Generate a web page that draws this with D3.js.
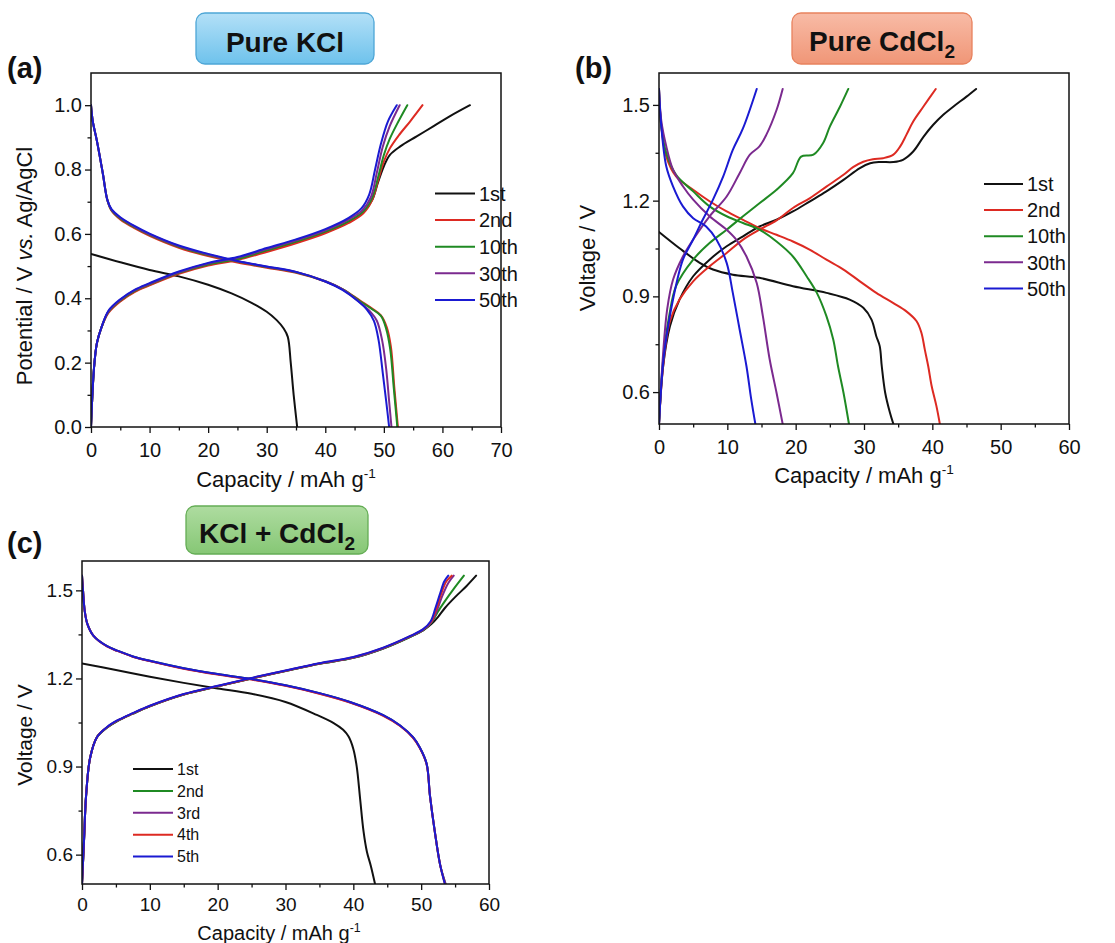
<!DOCTYPE html>
<html>
<head>
<meta charset="utf-8">
<script src="https://cdn.jsdelivr.net/npm/d3@7/dist/d3.min.js"></script>
<style>
  html, body { margin: 0; padding: 0; background: #fff; }
  svg { display: block; font-family: Arial, "Liberation Sans", sans-serif; }
</style>
</head>
<body>
<svg id="fig" width="1115" height="943"></svg>
<script>
// ---------- Panel (a): Pure KCl, potential vs Ag/AgCl ----------
const cyclesA = ["1st", "2nd", "10th", "30th", "50th"];
const xTicksA = [0, 10, 20, 30, 40, 50, 60, 70];
const yTicksA = [0.0, 0.2, 0.4, 0.6, 0.8, 1.0];

// [capacity (mAh/g), potential (V)]
const chargeA_1st = [[0,0],[0.5,0.18],[1,0.26],[1.8,0.31],[3,0.358],[5,0.392],[7.5,0.422],[10,0.442],[15,0.479],[20,0.505],[25,0.522],[30,0.548],[35,0.575],[40,0.605],[44,0.637],[46.5,0.667],[48,0.705],[49,0.76],[50,0.81],[51,0.845],[52.8,0.872],[55.6,0.903],[58.5,0.935],[61.3,0.966],[64.7,1.0]];
const chargeA_2nd = [[0,0],[0.5,0.18],[1,0.26],[1.8,0.31],[3,0.355],[5,0.39],[7.5,0.42],[10,0.44],[15,0.476],[20,0.502],[25,0.519],[30,0.544],[35,0.571],[40,0.602],[44,0.634],[46.5,0.664],[48,0.705],[49,0.765],[50,0.825],[51,0.865],[52.5,0.905],[54.5,0.95],[56.6,1.0]];
const chargeA_10th = [[0,0],[0.5,0.18],[1,0.26],[1.8,0.31],[3,0.358],[5,0.393],[7.5,0.423],[10,0.443],[15,0.479],[20,0.505],[25,0.522],[30,0.549],[35,0.576],[40,0.607],[44,0.64],[46.5,0.67],[48,0.712],[49,0.775],[50,0.845],[51,0.895],[52.5,0.95],[54,1.0]];
const chargeA_30th = [[0,0],[0.5,0.18],[1,0.26],[1.8,0.31],[3,0.36],[5,0.395],[7.5,0.425],[10,0.445],[15,0.481],[20,0.508],[25,0.526],[30,0.553],[35,0.58],[40,0.611],[44,0.645],[46.3,0.673],[47.8,0.715],[48.8,0.79],[49.8,0.87],[51,0.935],[52.7,1.0]];
const chargeA_50th = [[0,0],[0.5,0.18],[1,0.26],[1.8,0.31],[3,0.362],[5,0.397],[7.5,0.427],[10,0.447],[15,0.483],[20,0.51],[25,0.528],[30,0.556],[35,0.583],[40,0.615],[44,0.65],[46.2,0.68],[47.5,0.722],[48.5,0.8],[49.5,0.88],[50.7,0.95],[52.2,1.0]];

const dischargeA_1st = [[0,0.538],[5,0.512],[10,0.488],[15,0.468],[20,0.442],[24,0.415],[27.5,0.385],[30,0.358],[31.7,0.332],[32.9,0.306],[33.6,0.28],[34.1,0.2],[34.6,0.1],[35.2,0]];
const dischargeA_2nd = [[0,1.0],[0.3,0.95],[1,0.89],[2,0.79],[2.8,0.705],[3.5,0.672],[5,0.645],[7.5,0.617],[10,0.594],[15,0.557],[20,0.531],[25,0.511],[30,0.495],[35,0.479],[40,0.452],[43,0.428],[46,0.392],[48,0.368],[49.5,0.347],[50.5,0.31],[51.2,0.25],[51.8,0.12],[52.4,0]];
const dischargeA_10th = [[0,1.0],[0.3,0.95],[1,0.89],[2,0.79],[2.8,0.705],[3.5,0.674],[5,0.648],[7.5,0.62],[10,0.597],[15,0.56],[20,0.534],[25,0.514],[30,0.497],[35,0.481],[40,0.453],[43,0.428],[46,0.39],[48,0.366],[49.5,0.345],[50.4,0.305],[51.1,0.24],[51.7,0.12],[52.3,0]];
const dischargeA_30th = [[0,1.0],[0.3,0.95],[1,0.89],[2,0.79],[2.8,0.705],[3.5,0.675],[5,0.65],[7.5,0.622],[10,0.599],[15,0.562],[20,0.536],[25,0.515],[30,0.498],[35,0.482],[40,0.453],[43,0.427],[46,0.386],[47.6,0.36],[48.8,0.33],[49.7,0.27],[50.4,0.18],[50.9,0.08],[51.3,0]];
const dischargeA_50th = [[0,1.0],[0.3,0.95],[1,0.89],[2,0.79],[2.8,0.705],[3.5,0.677],[5,0.652],[7.5,0.624],[10,0.601],[15,0.564],[20,0.538],[25,0.516],[30,0.499],[35,0.482],[40,0.452],[43,0.425],[45.5,0.392],[47.1,0.365],[48.3,0.33],[49.1,0.27],[49.8,0.17],[50.4,0.08],[50.9,0]];

// ---------- Panel (b): Pure CdCl2 ----------
const cyclesB = ["1st", "2nd", "10th", "30th", "50th"];
const xTicksB = [0, 10, 20, 30, 40, 50, 60];
const yTicksB = [0.6, 0.9, 1.2, 1.5];

const chargeB_1st = [[0,0.5],[0.6,0.68],[1.6,0.806],[3,0.89],[5,0.963],[7.4,1.015],[9.9,1.057],[12.3,1.088],[14.7,1.119],[17.2,1.14],[19.6,1.166],[22.1,1.198],[24.5,1.229],[27,1.265],[29.4,1.302],[30.9,1.317],[32.3,1.321],[34.3,1.321],[35.7,1.328],[37.2,1.354],[38.7,1.4],[40.1,1.437],[41.6,1.469],[43.1,1.495],[45,1.526],[46.4,1.55]];
const chargeB_2nd = [[0,0.5],[0.6,0.68],[1.6,0.822],[3,0.89],[5,0.947],[7.4,0.994],[9.9,1.036],[12.3,1.078],[14.7,1.109],[17.2,1.138],[19.6,1.177],[22.1,1.208],[24.5,1.244],[27,1.281],[28.4,1.305],[29.9,1.322],[31.3,1.33],[32.8,1.333],[34.3,1.344],[35.3,1.37],[36.2,1.406],[37.2,1.448],[38.7,1.495],[40.5,1.55]];
const chargeB_10th = [[0,0.5],[0.6,0.7],[1.5,0.84],[2.5,0.932],[5,1.015],[7.4,1.067],[9.9,1.109],[12.3,1.151],[14.7,1.192],[17.2,1.234],[19.6,1.286],[20.8,1.338],[22.6,1.344],[24,1.38],[25,1.432],[26.5,1.495],[27.7,1.55]];
const chargeB_30th = [[0,0.5],[0.6,0.72],[1.2,0.86],[2.05,0.952],[3.5,1.025],[5,1.078],[7.4,1.151],[9.9,1.213],[11.8,1.286],[13.3,1.344],[14.7,1.37],[15.7,1.406],[17.2,1.484],[18.1,1.55]];
const chargeB_50th = [[0,0.5],[0.4,0.64],[0.83,0.733],[2.05,0.89],[3.5,1.015],[5,1.078],[6.4,1.14],[7.9,1.203],[9.4,1.276],[10.8,1.359],[12.3,1.427],[14.3,1.55]];

const dischargeB_1st = [[0,1.102],[3,1.051],[5.96,1.005],[7.9,0.984],[10.8,0.968],[14.7,0.958],[19.6,0.932],[24.5,0.911],[27.9,0.89],[29.9,0.864],[31.1,0.827],[31.8,0.775],[32.3,0.744],[32.6,0.681],[33.1,0.598],[33.8,0.535],[34.3,0.5]];
const dischargeB_2nd = [[0,1.55],[0.34,1.432],[1.07,1.338],[2.5,1.276],[5,1.234],[7.4,1.198],[9.9,1.166],[12.3,1.14],[14.7,1.114],[17.2,1.093],[19.6,1.072],[22.1,1.046],[24.5,1.015],[27,0.984],[29.4,0.947],[31.8,0.911],[34.3,0.879],[36.2,0.853],[37.7,0.822],[38.4,0.786],[38.9,0.733],[39.4,0.681],[39.9,0.619],[40.6,0.556],[41.1,0.5]];
const dischargeB_10th = [[0,1.55],[0.34,1.432],[1.07,1.349],[2.5,1.281],[5,1.229],[7.4,1.182],[9.9,1.151],[12.3,1.13],[14.7,1.109],[17.2,1.072],[19.6,1.025],[21.6,0.963],[23.1,0.911],[24.5,0.838],[25.5,0.765],[26.2,0.681],[27,0.598],[27.8,0.5]];
const dischargeB_30th = [[0,1.55],[0.34,1.45],[1.07,1.37],[2.05,1.297],[3.5,1.245],[5,1.203],[7.4,1.151],[9.9,1.109],[11.3,1.078],[12.8,1.025],[14.3,0.942],[15.2,0.838],[16.2,0.702],[17.2,0.598],[18.1,0.5]];
const dischargeB_50th = [[0,1.55],[0.34,1.432],[1.07,1.307],[2.05,1.245],[3.5,1.182],[5,1.145],[6.9,1.119],[8.4,1.078],[9.9,1.005],[10.8,0.911],[11.8,0.796],[12.8,0.681],[13.5,0.577],[14.1,0.5]];

// ---------- Panel (c): KCl + CdCl2 ----------
const cyclesC = ["1st", "2nd", "3rd", "4th", "5th"];
const xTicksC = [0, 10, 20, 30, 40, 50, 60];
const yTicksC = [0.6, 0.9, 1.2, 1.5];

const chargeC_1st = [[0,0.5],[0.3,0.65],[0.6,0.8],[1.2,0.93],[2.2,1.0],[3.7,1.033],[5.2,1.055],[7.5,1.08],[10,1.105],[15,1.145],[20,1.173],[25,1.2],[30,1.225],[35,1.25],[40,1.27],[44.4,1.302],[48.4,1.342],[50.3,1.364],[51.5,1.385],[52.5,1.41],[53.5,1.44],[55,1.477],[56.7,1.515],[58.1,1.55]];
const chargeC_2nd = [[0,0.5],[0.3,0.65],[0.6,0.8],[1.2,0.93],[2.2,1.0],[3.7,1.033],[5.2,1.055],[7.5,1.08],[10,1.105],[15,1.145],[20,1.173],[25,1.2],[30,1.225],[35,1.25],[40,1.27],[44.4,1.302],[48.4,1.342],[50.3,1.364],[51.5,1.39],[52.4,1.425],[53.4,1.46],[54.8,1.505],[56.3,1.55]];
const chargeC_3rd = [[0,0.5],[0.3,0.65],[0.6,0.8],[1.2,0.93],[2.2,1.0],[3.7,1.034],[5.2,1.056],[7.5,1.081],[10,1.106],[15,1.146],[20,1.174],[25,1.201],[30,1.226],[35,1.251],[40,1.271],[44.4,1.303],[48.4,1.343],[50.3,1.366],[51.5,1.392],[52.3,1.43],[53.1,1.48],[54,1.525],[54.8,1.55]];
const chargeC_4th = [[0,0.5],[0.3,0.65],[0.6,0.8],[1.2,0.93],[2.2,1.0],[3.7,1.034],[5.2,1.056],[7.5,1.081],[10,1.106],[15,1.146],[20,1.174],[25,1.201],[30,1.226],[35,1.251],[40,1.272],[44.4,1.304],[48.4,1.344],[50.3,1.367],[51.5,1.394],[52.2,1.435],[52.9,1.485],[53.7,1.53],[54.5,1.55]];
const chargeC_5th = [[0,0.5],[0.3,0.65],[0.6,0.8],[1.2,0.93],[2.2,1.0],[3.7,1.035],[5.2,1.057],[7.5,1.082],[10,1.107],[15,1.147],[20,1.175],[25,1.202],[30,1.227],[35,1.252],[40,1.273],[44.4,1.305],[48.4,1.345],[50.3,1.368],[51.4,1.395],[52.1,1.44],[52.8,1.49],[53.4,1.53],[54,1.55]];

const dischargeC_1st = [[0,1.251],[5,1.229],[10,1.206],[15,1.185],[20,1.166],[25,1.148],[30,1.12],[34.6,1.076],[37.1,1.048],[38.5,1.025],[39.3,1.002],[40,0.96],[40.5,0.9],[41,0.79],[41.5,0.68],[42,0.61],[42.6,0.56],[43.2,0.5]];
const dischargeC_2nd = [[0,1.55],[0.15,1.5],[0.4,1.43],[0.8,1.385],[1.7,1.345],[3.7,1.31],[5.2,1.295],[7.5,1.275],[10,1.26],[15,1.235],[20,1.215],[25,1.198],[30,1.177],[35,1.15],[39.5,1.12],[44.4,1.075],[46.9,1.04],[48.8,1.0],[49.8,0.965],[50.8,0.91],[51.3,0.8],[52,0.68],[52.8,0.565],[53.6,0.5]];
const dischargeC_3rd = [[0,1.55],[0.15,1.5],[0.4,1.43],[0.8,1.385],[1.7,1.345],[3.7,1.309],[5.2,1.294],[7.5,1.274],[10,1.259],[15,1.234],[20,1.214],[25,1.197],[30,1.176],[35,1.149],[39.5,1.119],[44.4,1.074],[46.9,1.039],[48.8,0.999],[49.8,0.964],[50.8,0.909],[51.3,0.8],[52,0.68],[52.8,0.565],[53.6,0.5]];
const dischargeC_4th = [[0,1.55],[0.15,1.5],[0.4,1.43],[0.8,1.385],[1.7,1.345],[3.7,1.309],[5.2,1.294],[7.5,1.274],[10,1.259],[15,1.233],[20,1.213],[25,1.196],[30,1.175],[35,1.148],[39.5,1.118],[44.4,1.073],[46.9,1.038],[48.8,0.998],[49.8,0.963],[50.8,0.908],[51.3,0.8],[52,0.68],[52.8,0.565],[53.5,0.5]];
const dischargeC_5th = [[0,1.55],[0.15,1.5],[0.4,1.43],[0.8,1.385],[1.7,1.345],[3.7,1.31],[5.2,1.295],[7.5,1.275],[10,1.26],[15,1.235],[20,1.215],[25,1.198],[30,1.177],[35,1.15],[39.5,1.12],[44.4,1.075],[46.9,1.04],[48.8,1.0],[49.8,0.965],[50.8,0.91],[51.3,0.8],[52,0.68],[52.8,0.565],[53.5,0.5]];

// ---------- drawing ----------
const FONT = 'Arial, "Liberation Sans", sans-serif';
const svg = d3.select("#fig");

const defs = svg.append("defs");
function gradient(id, top, bottom) {
  const g = defs.append("linearGradient").attr("id", id)
    .attr("x1", 0).attr("y1", 0).attr("x2", 0).attr("y2", 1);
  g.append("stop").attr("offset", "0%").attr("stop-color", top);
  g.append("stop").attr("offset", "100%").attr("stop-color", bottom);
}
gradient("gBlue", "#b3e0f7", "#6ec2ec");
gradient("gRed", "#f8bba6", "#f09677");
gradient("gGreen", "#aedca0", "#86c775");

function titleBox(b) {
  const g = svg.append("g");
  g.append("rect").attr("x", b.x).attr("y", b.y).attr("width", b.w).attr("height", b.h)
    .attr("rx", 9).attr("ry", 9)
    .attr("fill", `url(#${b.grad})`).attr("stroke", b.stroke).attr("stroke-width", 1.3);
  const t = g.append("text").attr("x", b.x + b.w / 2 + (b.dx || 0)).attr("y", b.base)
    .attr("text-anchor", "middle").attr("font-family", FONT)
    .attr("font-weight", "bold").attr("font-size", 28).attr("fill", "#111");
  t.append("tspan").text(b.text);
  if (b.sub) t.append("tspan").attr("font-size", 19).attr("dy", 7).text(b.sub);
}

function panelLabel(txt, x, y) {
  svg.append("text").attr("x", x).attr("y", y).attr("font-family", FONT)
    .attr("font-weight", "bold").attr("font-size", 29).attr("fill", "#111").text(txt);
}

function drawPanel(p) {
  const x = d3.scaleLinear().domain(p.xDomain).range([p.left, p.right]);
  const y = d3.scaleLinear().domain(p.yDomain).range([p.bottom, p.top]);
  const g = svg.append("g");

  // minor ticks
  const xMinor = d3.axisBottom(x).tickValues(p.xMinor).tickSize(3.5).tickFormat("").tickSizeOuter(0);
  const yMinor = d3.axisLeft(y).tickValues(p.yMinor).tickSize(3.5).tickFormat("").tickSizeOuter(0);
  g.append("g").attr("transform", `translate(0,${p.bottom})`).call(xMinor);
  g.append("g").attr("transform", `translate(${p.left},0)`).call(yMinor);

  // major ticks with labels
  const xAxis = d3.axisBottom(x).tickValues(p.xTicks).tickSize(6).tickSizeOuter(0)
    .tickPadding(p.xPad).tickFormat(d3.format("d"));
  const yAxis = d3.axisLeft(y).tickValues(p.yTicks).tickSize(6).tickSizeOuter(0)
    .tickPadding(3).tickFormat(d3.format(".1f"));
  const gx = g.append("g").attr("transform", `translate(0,${p.bottom})`).call(xAxis);
  const gy = g.append("g").attr("transform", `translate(${p.left},0)`).call(yAxis);
  [gx, gy].forEach(a => {
    a.select(".domain").remove();
    a.selectAll("text").attr("font-family", FONT).attr("font-size", p.tickFont).attr("fill", "#111");
  });
  g.selectAll(".tick line").attr("stroke", "#111").attr("stroke-width", 1.3);
  g.selectAll("path.domain").remove();

  // curves
  const line = d3.line().x(d => x(d[0])).y(d => y(d[1])).curve(d3.curveCatmullRom.alpha(0.5));
  const clipId = "clip" + p.id;
  defs.append("clipPath").attr("id", clipId).append("rect")
    .attr("x", p.left).attr("y", p.top).attr("width", p.right - p.left).attr("height", p.bottom - p.top);
  const cg = g.append("g").attr("clip-path", `url(#${clipId})`);
  p.series.forEach(s => {
    cg.append("path").datum(s.data).attr("d", line)
      .attr("fill", "none").attr("stroke", s.color).attr("stroke-width", 2)
      .attr("stroke-linejoin", "round").attr("stroke-linecap", "round");
  });

  // frame
  g.append("rect").attr("x", p.left).attr("y", p.top)
    .attr("width", p.right - p.left).attr("height", p.bottom - p.top)
    .attr("fill", "none").attr("stroke", "#111").attr("stroke-width", 1.5);

  // legend
  p.legend.names.forEach((n, i) => {
    const ly = p.legend.y0 + i * p.legend.dy;
    g.append("line").attr("x1", p.legend.x1).attr("x2", p.legend.x2).attr("y1", ly).attr("y2", ly)
      .attr("stroke", p.legend.colors[i]).attr("stroke-width", 2);
    g.append("text").attr("x", p.legend.x2 + 4).attr("y", ly).attr("dy", "0.36em")
      .attr("font-family", FONT).attr("font-size", p.legend.font).attr("fill", "#111").text(n);
  });

  // axis titles
  const xt = g.append("text").attr("x", p.xTitle.x).attr("y", p.xTitle.y).attr("text-anchor", "middle")
    .attr("font-family", FONT).attr("font-size", p.xTitle.font).attr("fill", "#111");
  xt.append("tspan").text("Capacity / mAh g");
  xt.append("tspan").attr("font-size", p.xTitle.font * 0.62).attr("dy", -p.xTitle.font * 0.42).text("-1");

  const yt = g.append("text").attr("transform", `translate(${p.yTitle.x},${p.yTitle.y}) rotate(-90)`)
    .attr("text-anchor", "middle").attr("font-family", FONT).attr("font-size", p.yTitle.font).attr("fill", "#111");
  p.yTitle.parts.forEach(part => {
    const ts = yt.append("tspan").text(part.t);
    if (part.italic) ts.attr("font-style", "italic");
  });
}

const colorsA = ["#111111", "#dd2a22", "#1f8a23", "#7b2a8f", "#1a1ad2"];
const colorsC = ["#111111", "#1f8a23", "#7b2a8f", "#dd2a22", "#1a1ad2"];

const range = (a, b, s) => d3.range(a, b + s / 2, s);

// Panel (a)
titleBox({ x: 196, y: 13, w: 178, h: 51, base: 52, grad: "gBlue", stroke: "#4ea6d6", text: "Pure KCl" });
panelLabel("(a)", 7, 78);
const chargeA = [chargeA_1st, chargeA_2nd, chargeA_10th, chargeA_30th, chargeA_50th];
const dischargeA = [dischargeA_1st, dischargeA_2nd, dischargeA_10th, dischargeA_30th, dischargeA_50th];
drawPanel({
  id: "A", left: 91, right: 501, top: 73, bottom: 427,
  xDomain: [0, 70], yDomain: [0, 1.1],
  xTicks: xTicksA, yTicks: yTicksA,
  xMinor: range(5, 65, 10), yMinor: range(0.1, 0.9, 0.2),
  xPad: 10, tickFont: 20,
  series: cyclesA.flatMap((c, i) => [
    { data: chargeA[i], color: colorsA[i] },
    { data: dischargeA[i], color: colorsA[i] }
  ]),
  legend: { names: cyclesA, colors: colorsA, x1: 435, x2: 475, y0: 193.5, dy: 26.6, font: 20 },
  xTitle: { x: 286, y: 487, font: 22 },
  yTitle: { x: 32, y: 266, font: 22, parts: [{ t: "Potential / V " }, { t: "vs.", italic: true }, { t: " Ag/AgCl" }] }
});

// Panel (b)
titleBox({ x: 792, y: 13, w: 180, h: 51, base: 51, grad: "gRed", stroke: "#e8825e", text: "Pure CdCl", sub: "2", dx: 0 });
panelLabel("(b)", 575, 78);
const chargeB = [chargeB_1st, chargeB_2nd, chargeB_10th, chargeB_30th, chargeB_50th];
const dischargeB = [dischargeB_1st, dischargeB_2nd, dischargeB_10th, dischargeB_30th, dischargeB_50th];
drawPanel({
  id: "B", left: 659, right: 1069, top: 73, bottom: 424,
  xDomain: [0, 60], yDomain: [0.5, 1.6],
  xTicks: xTicksB, yTicks: yTicksB,
  xMinor: range(5, 55, 10), yMinor: [0.75, 1.05, 1.35],
  xPad: 10, tickFont: 20,
  series: cyclesB.flatMap((c, i) => [
    { data: chargeB[i], color: colorsA[i] },
    { data: dischargeB[i], color: colorsA[i] }
  ]),
  legend: { names: cyclesB, colors: colorsA, x1: 984, x2: 1023, y0: 184, dy: 26.1, font: 20 },
  xTitle: { x: 864, y: 483, font: 22 },
  yTitle: { x: 595, y: 258, font: 22, parts: [{ t: "Voltage / V" }] }
});

// Panel (c)
titleBox({ x: 186, y: 506, w: 182, h: 48, base: 543, grad: "gGreen", stroke: "#64ad55", text: "KCl + CdCl", sub: "2" });
panelLabel("(c)", 7, 553);
const chargeC = [chargeC_1st, chargeC_2nd, chargeC_3rd, chargeC_4th, chargeC_5th];
const dischargeC = [dischargeC_1st, dischargeC_2nd, dischargeC_3rd, dischargeC_4th, dischargeC_5th];
drawPanel({
  id: "C", left: 82, right: 489, top: 561, bottom: 884,
  xDomain: [0, 60], yDomain: [0.5, 1.6],
  xTicks: xTicksC, yTicks: yTicksC,
  xMinor: range(5, 55, 10), yMinor: [0.75, 1.05, 1.35],
  xPad: 8, tickFont: 19,
  series: cyclesC.flatMap((c, i) => [
    { data: chargeC[i], color: colorsC[i] },
    { data: dischargeC[i], color: colorsC[i] }
  ]),
  legend: { names: cyclesC, colors: colorsC, x1: 133, x2: 173, y0: 769, dy: 21.9, font: 16 },
  xTitle: { x: 279, y: 940, font: 20 },
  yTitle: { x: 32, y: 735, font: 21, parts: [{ t: "Voltage / V" }] }
});
</script>
</body>
</html>
